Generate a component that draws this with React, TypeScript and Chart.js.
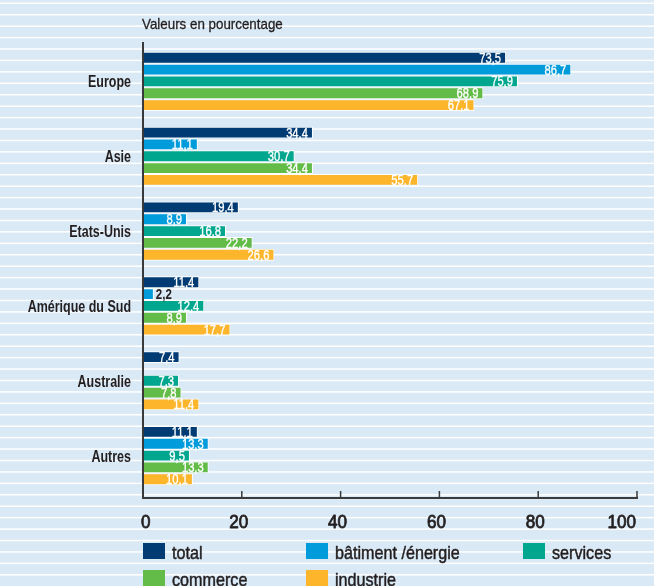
import React, { useEffect, useRef } from "react";
import { Chart, registerables } from "chart.js";

Chart.register(...registerables);

const categories = ["Europe", "Asie", "Etats-Unis", "Amérique du Sud", "Australie", "Autres"];
const seriesNames = ["total", "bâtiment /énergie", "services", "commerce", "industrie"];
const total = [73.5, 34.4, 19.4, 11.4, 7.4, 11.1];
const batiment = [86.7, 11.1, 8.9, 2.2, null, 13.3];
const services = [75.9, 30.7, 16.8, 12.4, 7.3, 9.5];
const commerce = [68.9, 34.4, 22.2, 8.9, 7.8, 13.3];
const industrie = [67.1, 55.7, 26.6, 17.7, 11.4, 10.1];
const xTicks = [0, 20, 40, 60, 80, 100];
const title = "Valeurs en pourcentage";

const colors = ["#003b73", "#009bdb", "#00a78e", "#63bc47", "#fdb62b"];
const FONT = "'Liberation Sans', Arial, sans-serif";
const TEXT = "#231f20";

const fmt = (v: number) => v.toFixed(1).replace(".", ",");

function drawText(
  ctx: CanvasRenderingContext2D,
  s: string,
  x: number,
  y: number,
  font: string,
  color: string,
  align: CanvasTextAlign,
  sx: number,
  stroke = 0
) {
  ctx.save();
  ctx.translate(x, y);
  ctx.scale(sx, 1);
  ctx.font = font;
  ctx.fillStyle = color;
  ctx.textAlign = align;
  ctx.textBaseline = "alphabetic";
  ctx.fillText(s, 0, 0);
  if (stroke > 0) {
    ctx.strokeStyle = color;
    ctx.lineWidth = stroke;
    ctx.lineJoin = "round";
    ctx.strokeText(s, 0, 0);
  }
  ctx.restore();
}

const decorPlugin = {
  id: "decor",
  beforeDraw(chart: any) {
    const { ctx, width, height } = chart;
    ctx.save();
    ctx.fillStyle = "#d9e9f5";
    ctx.fillRect(0, 0, width, height);
    ctx.fillStyle = "#ffffff";
    for (let y = 3.3; y < height; y += 11.43) {
      ctx.fillRect(0, y - 0.75, width, 1.5);
    }
    ctx.restore();
  },
  afterDatasetsDraw(chart: any) {
    const { ctx } = chart;
    chart.data.datasets.forEach((ds: any, di: number) => {
      const meta = chart.getDatasetMeta(di);
      meta.data.forEach((bar: any, i: number) => {
        const v = ds.data[i];
        if (v === null || v === undefined) return;
        if (v < 5) {
          drawText(ctx, fmt(v), bar.x + 2, bar.y + 5, `bold 14px ${FONT}`, TEXT, "left", 0.82);
        } else {
          drawText(ctx, fmt(v), bar.x - 5, bar.y + 5, `14px ${FONT}`, "#ffffff", "right", 0.8, 0.35);
        }
      });
    });
  },
  afterDraw(chart: any) {
    const { ctx, chartArea } = chart;
    const xs = chart.scales.x;
    const ys = chart.scales.y;
    // title
    drawText(ctx, title, 142, 29, `15px ${FONT}`, TEXT, "left", 0.89, 0.3);
    // category labels
    categories.forEach((c, i) => {
      const py = ys.getPixelForValue(i);
      drawText(ctx, c, 131, py + 6, `bold 16px ${FONT}`, TEXT, "right", 0.78);
    });
    // axes
    const axisY = chartArea.bottom + 5;
    ctx.save();
    ctx.strokeStyle = "#3a3a3a";
    ctx.lineWidth = 2;
    ctx.beginPath();
    ctx.moveTo(chartArea.left, 42);
    ctx.lineTo(chartArea.left, axisY);
    ctx.lineTo(xs.getPixelForValue(100) + 1, axisY);
    ctx.stroke();
    ctx.lineWidth = 1.5;
    for (const t of xTicks) {
      if (t === 0) continue;
      const px = xs.getPixelForValue(t);
      ctx.beginPath();
      ctx.moveTo(px, axisY - 7);
      ctx.lineTo(px, axisY);
      ctx.stroke();
    }
    ctx.restore();
    // x tick labels
    xTicks.forEach((t, i) => {
      const px = xs.getPixelForValue(t);
      let align: CanvasTextAlign = "center";
      let x = px - 3;
      if (i === 0) {
        align = "left";
        x = px - 2;
      } else if (i === xTicks.length - 1) {
        align = "right";
        x = px - 1;
      }
      drawText(ctx, String(t), x, 528, `18px ${FONT}`, TEXT, align, 0.95, 0.8);
    });
    // legend
    const cols = [143, 306, 523];
    const rows = [543, 570];
    seriesNames.forEach((name, i) => {
      const x = cols[i % 3];
      const y = rows[Math.floor(i / 3)];
      ctx.save();
      ctx.fillStyle = colors[i];
      ctx.fillRect(x, y, 22, 16);
      ctx.restore();
      drawText(ctx, name, x + 29, y + 15.5, `19px ${FONT}`, TEXT, "left", 0.85, 0.5);
    });
  },
};

export default function App() {
  const ref = useRef<HTMLCanvasElement | null>(null);
  useEffect(() => {
    document.body.style.margin = "0";
    const canvas = ref.current!;
    const seriesData = [total, batiment, services, commerce, industrie];
    const chart = new Chart(canvas, {
      type: "bar",
      data: {
        labels: categories,
        datasets: seriesData.map((d, i) => ({
          label: seriesNames[i],
          data: d as any,
          backgroundColor: colors[i],
          borderColor: "#ffffff",
          borderWidth: 1,
          borderSkipped: "start",
          categoryPercentage: 0.79,
          barPercentage: 1,
        })),
      },
      options: {
        indexAxis: "y",
        responsive: false,
        animation: false,
        devicePixelRatio: 1,
        layout: { padding: { left: 0, right: 17, top: 44, bottom: 0 } },
        plugins: { legend: { display: false }, tooltip: { enabled: false } },
        scales: {
          x: {
            min: 0,
            max: 100,
            ticks: { display: false, stepSize: 20 },
            grid: { display: false, drawTicks: false },
            border: { display: false },
            afterFit: (s: any) => {
              s.height = 93;
              s.paddingLeft = 0;
              s.paddingRight = 0;
            },
          },
          y: {
            ticks: { display: false },
            grid: { display: false, drawTicks: false },
            border: { display: false },
            afterFit: (s: any) => {
              s.width = 143;
              s.paddingTop = 0;
              s.paddingBottom = 0;
            },
          },
        },
      },
      plugins: [decorPlugin],
    });
    return () => chart.destroy();
  }, []);
  return (
    <div style={{ width: 654, height: 586 }}>
      <canvas ref={ref} width={654} height={586} style={{ display: "block" }} />
    </div>
  );
}
